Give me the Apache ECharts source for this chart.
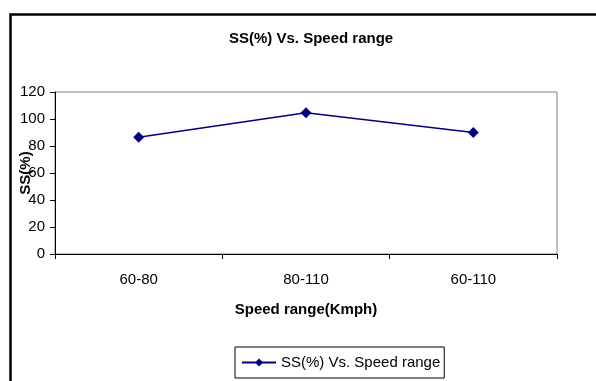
<!DOCTYPE html>
<html>
<head>
<meta charset="utf-8">
<script src="https://cdn.jsdelivr.net/npm/echarts@6/dist/echarts.min.js"></script>
<style>
html,body{margin:0;padding:0;background:#fff;}
#c{width:596px;height:381px;}
</style>
</head>
<body>
<div id="c"></div>
<script>
var categories = ['60-80', '80-110', '60-110'];
var ssValues = [86.4, 104.7, 90];
var yTicks = [0, 20, 40, 60, 80, 100, 120];
var seriesName = 'SS(%) Vs. Speed range';

var font = '"Liberation Sans", Arial, sans-serif';
var chart = echarts.init(document.getElementById('c'));
chart.setOption({
  animation: false,
  backgroundColor: '#fff',
  graphic: [{
    type: 'rect', left: 8, top: 12,
    shape: { width: 620, height: 400 },
    style: { fill: 'none', stroke: '#000', lineWidth: 2.5 },
    z: 0
  }],
  title: {
    text: 'SS(%) Vs. Speed range',
    left: 224, top: 26,
    textStyle: { fontFamily: font, fontSize: 15, fontWeight: 'bold', color: '#000' }
  },
  grid: {
    left: 55, top: 92, right: 39, bottom: 127,
    show: true, borderColor: '#808080', borderWidth: 1, backgroundColor: '#fff'
  },
  legend: {
    data: [seriesName],
    left: 235, top: 347,
    itemWidth: 34, itemHeight: 10, itemGap: 0,
    padding: [8, 4, 8, 6],
    borderColor: '#000', borderWidth: 1,
    textStyle: { fontFamily: font, fontSize: 15, color: '#000' }
  },
  xAxis: {
    type: 'category',
    data: categories,
    boundaryGap: true,
    name: 'Speed range(Kmph)',
    nameLocation: 'middle',
    nameGap: 48,
    nameMoveOverlap: false,
    nameTextStyle: { fontFamily: font, fontSize: 15, fontWeight: 'bold', color: '#000' },
    axisLine: { show: true, lineStyle: { color: '#000', width: 1 } },
    axisTick: { show: true, length: 5, lineStyle: { color: '#000' } },
    axisLabel: { fontFamily: font, fontSize: 15, color: '#000', margin: 18 },
    splitLine: { show: false }
  },
  yAxis: {
    type: 'value',
    min: yTicks[0], max: yTicks[yTicks.length - 1], interval: 20,
    name: 'SS(%)',
    nameLocation: 'middle',
    nameRotate: 90,
    nameGap: 22,
    nameMoveOverlap: false,
    nameTextStyle: { fontFamily: font, fontSize: 15, fontWeight: 'bold', color: '#000' },
    axisLine: { show: true, lineStyle: { color: '#000', width: 1 } },
    axisTick: { show: true, length: 5, lineStyle: { color: '#000' } },
    axisLabel: { fontFamily: font, fontSize: 15, color: '#000', margin: 10 },
    splitLine: { show: false }
  },
  series: [{
    name: seriesName,
    type: 'line',
    data: ssValues,
    symbol: 'diamond',
    symbolSize: 11,
    lineStyle: { color: '#000080', width: 1.5 },
    itemStyle: { color: '#000080' },
    z: 5
  }]
});
</script>
</body>
</html>
